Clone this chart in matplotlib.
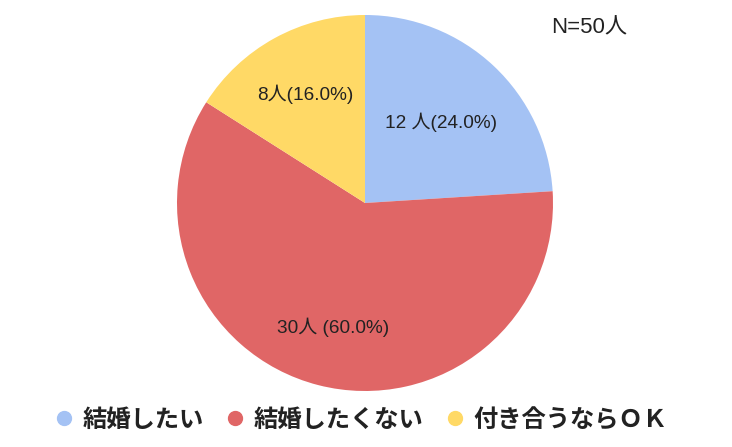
import matplotlib
matplotlib.use("Agg")
import matplotlib.pyplot as plt
from matplotlib.lines import Line2D

plt.rcParams['font.family'] = ['Noto Sans CJK JP', 'DejaVu Sans']
latin_cjk = ['Liberation Sans', 'Noto Sans CJK JP']

categories = ['結婚したい', '結婚したくない', '付き合うならＯＫ']
values = [12, 30, 8]
slice_labels = ['12 人(24.0%)', '30人 (60.0%)', '8人(16.0%)']
colors = ['#a4c2f4', '#e06666', '#ffd966']
note = 'N=50人'

# style: radial placement of each slice label (fraction of radius)
label_dist = [0.59, 0.68, 0.66]

W, H = 732, 447
fig = plt.figure(figsize=(W / 100, H / 100), dpi=100)
cx, cy, r = 365, 203, 188
ax = fig.add_axes([(cx - r) / W, (H - cy - r) / H, 2 * r / W, 2 * r / H])
wedges, texts = ax.pie(values, colors=colors, startangle=90, counterclock=False,
                       labels=slice_labels, labeldistance=1.0, radius=1,
                       textprops=dict(fontsize=13.7, color='#222222', family=latin_cjk))
for t, d in zip(texts, label_dist):
    x, y = t.get_position()
    t.set_position((x * d, y * d))
    t.set_ha('center')
    t.set_va('center')
ax.set_xlim(-1, 1)
ax.set_ylim(-1, 1)
ax.set_aspect('equal')
ax.axis('off')

fig.text(589 / W, 1 - 28 / H, note, fontsize=16, color='#222222', ha='center', va='center',
         family=latin_cjk)

handles = [Line2D([0], [0], marker='o', linestyle='', markersize=10,
                  markerfacecolor=c, markeredgecolor=c) for c in colors]
leg = fig.legend(handles, categories, loc='center', bbox_to_anchor=(362 / W, 1 - 420 / H),
                 ncol=3, frameon=False, handlelength=0.6, handletextpad=0.45,
                 columnspacing=1.0, borderpad=0, borderaxespad=0,
                 prop=dict(size=17.5, weight='bold'))
for t in leg.get_texts():
    t.set_color('#222222')

fig.savefig('out.png', dpi=100)
